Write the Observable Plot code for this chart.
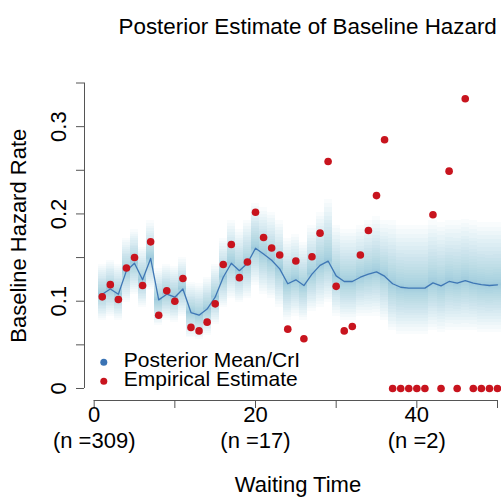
<!DOCTYPE html>
<html><head><meta charset="utf-8">
<script src="https://cdn.jsdelivr.net/npm/d3@7"></script>
<script src="https://cdn.jsdelivr.net/npm/@observablehq/plot@0.6"></script>
<style>body{margin:0;background:#fff} svg{display:block}</style>
</head><body><div id="chart"></div>
<script>
const times = [1,2,3,4,5,6,7,8,9,10,11,12,13,14,15,16,17,18,19,20,21,22,23,24,25,26,27,28,29,30,31,32,33,34,35,36,37,38,39,40,41,42,43,44,45,46,47,48,49,50];
const empirical = [0.105,0.119,0.102,0.138,0.150,0.118,0.168,0.084,0.112,0.100,
  0.126,0.070,0.066,0.076,0.097,0.142,0.165,0.127,0.145,0.202,
  0.173,0.161,0.153,0.068,0.146,0.057,0.151,0.178,0.260,0.117,
  0.066,0.071,0.153,0.181,0.221,0.285,0,0,0,0,
  0,0.199,0,0.249,0,0.332,0,0,0,0];
const postMean = [0.108,0.114,0.108,0.135,0.1435,0.1245,0.149,0.1015,0.108,0.1046,
  0.114,0.087,0.084,0.091,0.1046,0.1275,0.1435,0.135,0.1435,0.1607,
  0.154,0.147,0.137,0.120,0.1245,0.118,0.131,0.141,0.146,0.129,
  0.1226,0.1226,0.1275,0.131,0.1336,0.1287,0.120,0.116,0.115,0.115,
  0.115,0.121,0.1176,0.1226,0.1206,0.1237,0.1206,0.119,0.118,0.1187];
const credLower = [0.078,0.083,0.078,0.098,0.108,0.093,0.113,0.072,0.078,0.076,
  0.083,0.058,0.056,0.061,0.073,0.093,0.103,0.098,0.103,0.118,
  0.108,0.103,0.093,0.078,0.083,0.078,0.088,0.093,0.098,0.083,
  0.078,0.078,0.083,0.083,0.083,0.078,0.066,0.062,0.062,0.062,
  0.062,0.066,0.064,0.066,0.066,0.066,0.066,0.064,0.064,0.064];
const credUpper = [0.142,0.147,0.142,0.172,0.182,0.162,0.192,0.137,0.142,0.140,
  0.150,0.122,0.120,0.127,0.142,0.172,0.192,0.182,0.192,0.212,
  0.207,0.202,0.192,0.172,0.177,0.167,0.187,0.202,0.217,0.187,
  0.182,0.182,0.187,0.192,0.197,0.192,0.192,0.187,0.187,0.187,
  0.187,0.192,0.190,0.192,0.192,0.194,0.192,0.190,0.190,0.190];
const xTicks = [0,10,20,30,40,50];
const xTickLabels = ["0","","20","","40",""];
const xCountLabels = ["(n =309)","","(n =17)","","(n =2)",""];
const yTicks = [0,0.05,0.10,0.15,0.20,0.25,0.30,0.35];
const yLabelTicks = [0,0.1,0.2,0.3];
const yLabelText = ["0","0.1","0.2","0.3"];
const legendLabels = ["Posterior Mean/CrI","Empirical Estimate"];
const legendColors = ["#3a73b4","#c8141e"];

const xMin = -1.2, yMin = -0.01375;
const levels = 22;
const bandRows = [];
times.forEach((tt, i) => {
  for (let k = 1; k <= levels; k++) {
    const f = Math.pow(k / levels, 1.6);
    bandRows.push({x1: tt - 0.5, x2: tt + 0.5,
      y1: postMean[i] - f * (postMean[i] - credLower[i]),
      y2: postMean[i] + f * (credUpper[i] - postMean[i])});
  }
});
const pts = times.map((tt, i) => ({t: tt, v: empirical[i], m: postMean[i]}));
const xt = xTicks.map((v, i) => ({v, a: xTickLabels[i], b: xCountLabels[i]})).filter(d => d.a);

const chart = Plot.plot({
  width: 501, height: 504,
  marginLeft: 84, marginRight: 4, marginTop: 82.5, marginBottom: 104,
  x: {domain: [xMin, 50]},
  y: {domain: [yMin, 0.35]},
  style: {fontFamily: "'Liberation Sans', Arial, sans-serif", fontSize: "22px", color: "#000", background: "#fff"},
  marks: [
    Plot.rect(bandRows, {x1: "x1", x2: "x2", y1: "y1", y2: "y2", fill: "#5aaed6", fillOpacity: 0.038, shapeRendering: "crispEdges"}),
    Plot.line(pts, {x: "t", y: "m", stroke: "#3f77b5", strokeWidth: 1.3}),
    Plot.dot(pts, {x: "t", y: "v", r: 3.8, fill: "#c8141e"}),
    // axes
    Plot.ruleX([xMin], {y1: yTicks[0], y2: yTicks[yTicks.length - 1], stroke: "#555"}),
    Plot.axisY({ticks: yTicks, tickSize: 8, tickFormat: () => "", label: null, stroke: "#555"}),
    Plot.text(yLabelTicks, {y: d => d, frameAnchor: "left", dx: -26, rotate: -90, text: (d, i) => yLabelText[i], textAnchor: "middle", fontSize: 22}),
    Plot.ruleY([yMin], {x1: xTicks[0], x2: xTicks[xTicks.length - 1], stroke: "#555"}),
    Plot.axisX({ticks: xTicks, tickSize: 8, tickFormat: () => "", label: null, stroke: "#555"}),
    Plot.text(xt, {x: "v", frameAnchor: "bottom", dy: 21, text: "a", fontSize: 22}),
    Plot.text(xt, {x: "v", frameAnchor: "bottom", dy: 47, text: "b", fontSize: 22}),
    // titles
    Plot.text(["Posterior Estimate of Baseline Hazard"], {frameAnchor: "top-left", dx: 34, dy: -64.5, textAnchor: "start", fontSize: 22.4}),
    Plot.text(["Waiting Time"], {frameAnchor: "bottom", dx: 7, dy: 91, fontSize: 22}),
    Plot.text(["Baseline Hazard Rate"], {frameAnchor: "left", dx: -65.5, dy: -6, rotate: -90, textAnchor: "middle", fontSize: 22}),
    // legend
    Plot.dot([legendLabels[0]], {frameAnchor: "bottom-left", dx: 19.3, dy: -38.3, r: 3.5, fill: legendColors[0]}),
    Plot.dot([legendLabels[1]], {frameAnchor: "bottom-left", dx: 19.3, dy: -19.3, r: 3.5, fill: legendColors[1]}),
    Plot.text([legendLabels[0]], {frameAnchor: "bottom-left", dx: 39.3, dy: -34, textAnchor: "start", fontSize: 21}),
    Plot.text([legendLabels[1]], {frameAnchor: "bottom-left", dx: 39.3, dy: -14.5, textAnchor: "start", fontSize: 21}),
  ]
});
document.getElementById("chart").appendChild(chart);
</script>
</body></html>
